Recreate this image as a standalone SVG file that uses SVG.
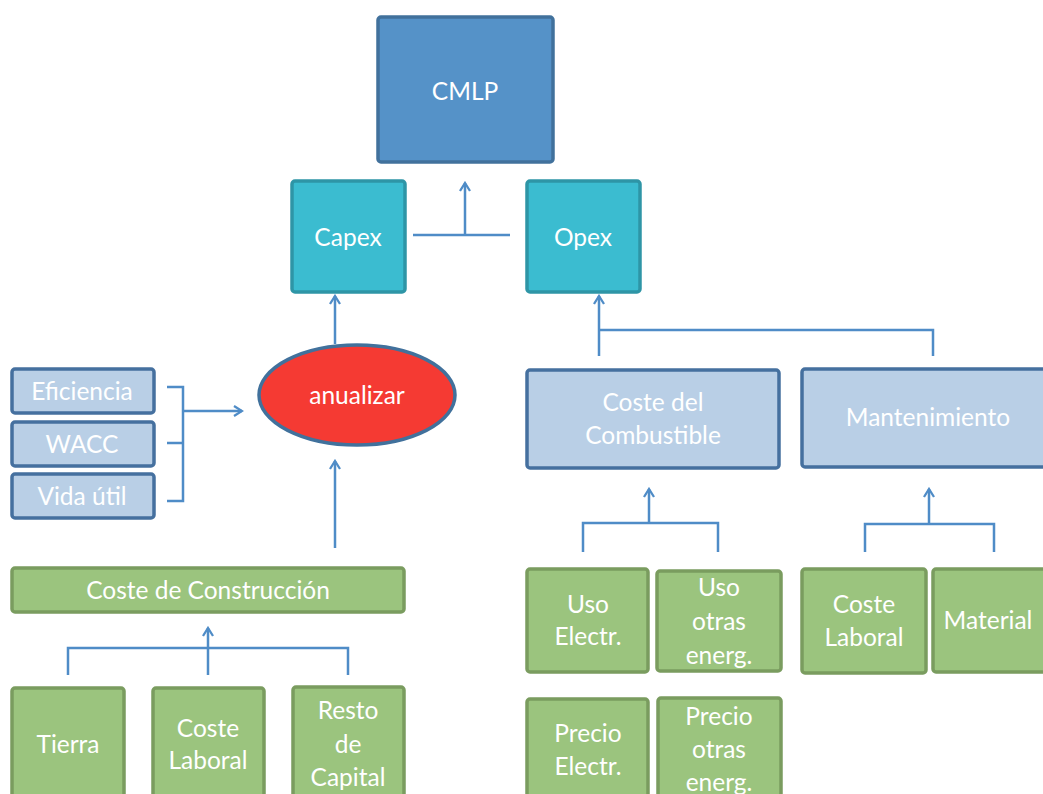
<svg xmlns="http://www.w3.org/2000/svg" width="1043" height="794" viewBox="0 0 1043 794">
<style>
text{font-family:Lato,"Open Sans","Liberation Sans",sans-serif;font-size:24.5px;fill:#ffffff;text-anchor:middle}
.dark{fill:#5592C8;stroke:#41719C;stroke-width:3.5}
.teal{fill:#3BBCD0;stroke:#2E95A6;stroke-width:3.5}
.light{fill:#B9CFE6;stroke:#45709F;stroke-width:3.5}
.green{fill:#9BC47E;stroke:#7A9C5F;stroke-width:3.5}
.conn{fill:none;stroke:#4F8CC7;stroke-width:2.5}
</style>
<defs>
<marker id="arr" viewBox="0 0 12 12" refX="10" refY="6" markerWidth="12" markerHeight="12" markerUnits="userSpaceOnUse" orient="auto">
<path d="M2,1 L10,6 L2,11" fill="none" stroke="#4F8CC7" stroke-width="2.3"/>
</marker>
</defs>
<rect width="1043" height="794" fill="#ffffff"/>
<g id="connectors" class="conn">
<path d="M413,235 H510"/>
<path d="M465,235 V183" marker-end="url(#arr)"/>
<path d="M335,344 V296" marker-end="url(#arr)"/>
<path d="M167,387 H183 V501 H167 M167,443 H183"/>
<path d="M183,411 H242" marker-end="url(#arr)"/>
<path d="M335,548 V461" marker-end="url(#arr)"/>
<path d="M68,675 V648 H348 V675"/>
<path d="M208,675 V628" marker-end="url(#arr)"/>
<path d="M599,330 H933 V356"/>
<path d="M599,356 V296" marker-end="url(#arr)"/>
<path d="M583,552 V523 H718 V552"/>
<path d="M649,523 V489" marker-end="url(#arr)"/>
<path d="M865,552 V524 H994 V552"/>
<path d="M929,524 V489" marker-end="url(#arr)"/>
</g>
<g id="cmlp"><rect class="dark" x="378" y="17" width="175" height="145" rx="3"/><text x="465" y="100">CMLP</text></g>
<g id="capex"><rect class="teal" x="292" y="181" width="113" height="111" rx="3"/><text x="348" y="246">Capex</text></g>
<g id="opex"><rect class="teal" x="527" y="181" width="113" height="111" rx="3"/><text x="583" y="246">Opex</text></g>
<g id="anualizar"><ellipse cx="357" cy="395" rx="98" ry="50" fill="#F53A33" stroke="#41719C" stroke-width="3.5"/><text x="357" y="404">anualizar</text></g>
<g id="eficiencia"><rect class="light" x="12" y="369" width="142" height="44" rx="3"/><text x="82" y="400">Eficiencia</text></g>
<g id="wacc"><rect class="light" x="12" y="422" width="142" height="44" rx="3"/><text x="82" y="453">WACC</text></g>
<g id="vida"><rect class="light" x="12" y="474" width="142" height="44" rx="3"/><text x="82" y="505">Vida útil</text></g>
<g id="construccion"><rect class="green" x="12" y="568" width="392" height="44" rx="3"/><text x="208" y="599">Coste de Construcción</text></g>
<g id="tierra"><rect class="green" x="12" y="688" width="112" height="120" rx="3"/><text x="68" y="753">Tierra</text></g>
<g id="laboral1"><rect class="green" x="153" y="688" width="111" height="120" rx="3"/><text x="208" y="737">Coste</text><text x="208" y="769">Laboral</text></g>
<g id="resto"><rect class="green" x="293" y="687" width="111" height="120" rx="3"/><text x="348" y="719">Resto</text><text x="348" y="753">de</text><text x="348" y="786">Capital</text></g>
<g id="combustible"><rect class="light" x="527" y="370" width="252" height="98" rx="3"/><text x="653" y="411">Coste del</text><text x="653" y="444">Combustible</text></g>
<g id="mantenimiento"><rect class="light" x="802" y="369" width="250" height="98" rx="3"/><text x="928" y="426">Mantenimiento</text></g>
<g id="usoelec"><rect class="green" x="527" y="569" width="121" height="103" rx="3"/><text x="588" y="613">Uso</text><text x="588" y="645">Electr.</text></g>
<g id="usootras"><rect class="green" x="657" y="571" width="124" height="100" rx="3"/><text x="719" y="596">Uso</text><text x="719" y="630">otras</text><text x="719" y="664">energ.</text></g>
<g id="laboral2"><rect class="green" x="802" y="569" width="124" height="104" rx="3"/><text x="864" y="613">Coste</text><text x="864" y="646">Laboral</text></g>
<g id="material"><rect class="green" x="933" y="569" width="120" height="103" rx="3"/><text x="988" y="629">Material</text></g>
<g id="precioelec"><rect class="green" x="527" y="699" width="121" height="110" rx="3"/><text x="588" y="742">Precio</text><text x="588" y="775">Electr.</text></g>
<g id="preciootras"><rect class="green" x="658" y="698" width="123" height="110" rx="3"/><text x="719" y="725">Precio</text><text x="719" y="758">otras</text><text x="719" y="791">energ.</text></g>
</svg>
